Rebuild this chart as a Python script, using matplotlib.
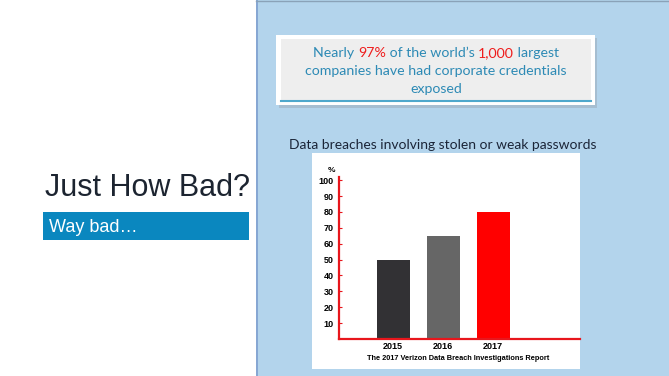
import matplotlib
matplotlib.use('Agg')
import matplotlib.pyplot as plt
from matplotlib.patches import Rectangle

# 数据
years = ['2015', '2016', '2017']
breach_pct = [50, 65, 80]
bar_colors = ['#323134', '#666666', '#ff0000']
y_ticks = [10, 20, 30, 40, 50, 60, 70, 80, 90, 100]

W, H = 669, 376
fig = plt.figure(figsize=(W / 100, H / 100), dpi=100)

# 整页背景, 像素坐标
bg = fig.add_axes([0, 0, 1, 1])
bg.set_xlim(0, W)
bg.set_ylim(H, 0)
bg.axis('off')

bg.add_patch(Rectangle((256, 0), W - 256, H, facecolor='#b3d4ec', edgecolor='none'))
bg.plot([256.5, 256.5], [0, H], color='#7f9fcf', lw=1.2)
bg.plot([256, W], [0.5, 0.5], color='#8aa2b8', lw=1)

# 左侧标题
bg.text(45, 188, 'Just How Bad?', fontsize=22, color='#1c2430', va='center', ha='left',
        family='Liberation Sans')
bg.add_patch(Rectangle((43, 212), 206, 28, facecolor='#0a87bf', edgecolor='none'))
bg.text(49, 227, 'Way bad\u2026', fontsize=13, color='white', va='center', ha='left',
        family='Liberation Sans')

# 顶部提示框
bg.add_patch(Rectangle((279, 38), 318, 70, facecolor='#9aa9b8', edgecolor='none', alpha=0.5))
bg.add_patch(Rectangle((276, 35), 319, 70, facecolor='white', edgecolor='none'))
bg.add_patch(Rectangle((281, 39), 310, 62, facecolor='#eeeeee', edgecolor='none'))
bg.plot([281, 591], [100.5, 100.5], color='#4fa8cc', lw=1.5)

blue_txt = '#2d8ab5'
red_txt = '#ee1c1c'
box_font = dict(fontsize=10.2, family='Lato', va='center')
lines = [
    [('Nearly ', blue_txt), ('97%', red_txt), (' of the world\u2019s ', blue_txt),
     ('1,000', red_txt), (' largest', blue_txt)],
    [('companies have had corporate credentials', blue_txt)],
    [('exposed', blue_txt)],
]
line_y = [53, 71, 89]

fig.canvas.draw()
renderer = fig.canvas.get_renderer()
for parts, y in zip(lines, line_y):
    texts = []
    for s, c in parts:
        t = bg.text(0, y, s, color=c, ha='left', **box_font)
        texts.append(t)
    widths = [t.get_window_extent(renderer).width for t in texts]
    x = 436 - sum(widths) / 2
    for t, w in zip(texts, widths):
        t.set_x(x)
        x += w

# 图表标题
bg.text(443, 145, 'Data breaches involving stolen or weak passwords', fontsize=10,
        family='Lato', color='#1b2538', ha='center', va='center')

# 图表白底
bg.add_patch(Rectangle((312, 153), 268, 216, facecolor='white', edgecolor='none'))
bg.text(458, 359, 'The 2017 Verizon Data Breach Investigations Report', fontsize=5.3,
        fontweight='bold', family='Liberation Sans', color='black', ha='center', va='center')
bg.text(331, 170, '%', fontsize=6, fontweight='bold', family='Liberation Sans',
        ha='center', va='center')

# 柱状图
ax = fig.add_axes([339 / W, (H - 339) / H, (580 - 339) / W, (339 - 177) / H])
ax.patch.set_alpha(0)
x = list(range(len(years)))
ax.bar(x, breach_pct, width=0.66, color=bar_colors, zorder=2)
ax.set_xlim(-1.08, 3.74)
ax.set_ylim(0, 102)
for s in ['top', 'right']:
    ax.spines[s].set_visible(False)
for s in ['left', 'bottom']:
    ax.spines[s].set_color('#e8161c')
    ax.spines[s].set_linewidth(1.6)
ax.set_yticks(y_ticks)
ax.set_yticklabels([str(v) for v in y_ticks], fontsize=6.5, fontweight='bold',
                   family='Liberation Sans')
ax.tick_params(axis='y', direction='in', length=2, color='#e8161c', pad=4)
ax.set_xticks(x)
ax.set_xticklabels(years, fontsize=6.5, fontweight='bold', family='Liberation Sans')
ax.tick_params(axis='x', length=0, pad=2.5)

fig.savefig('out.png', dpi=100)
